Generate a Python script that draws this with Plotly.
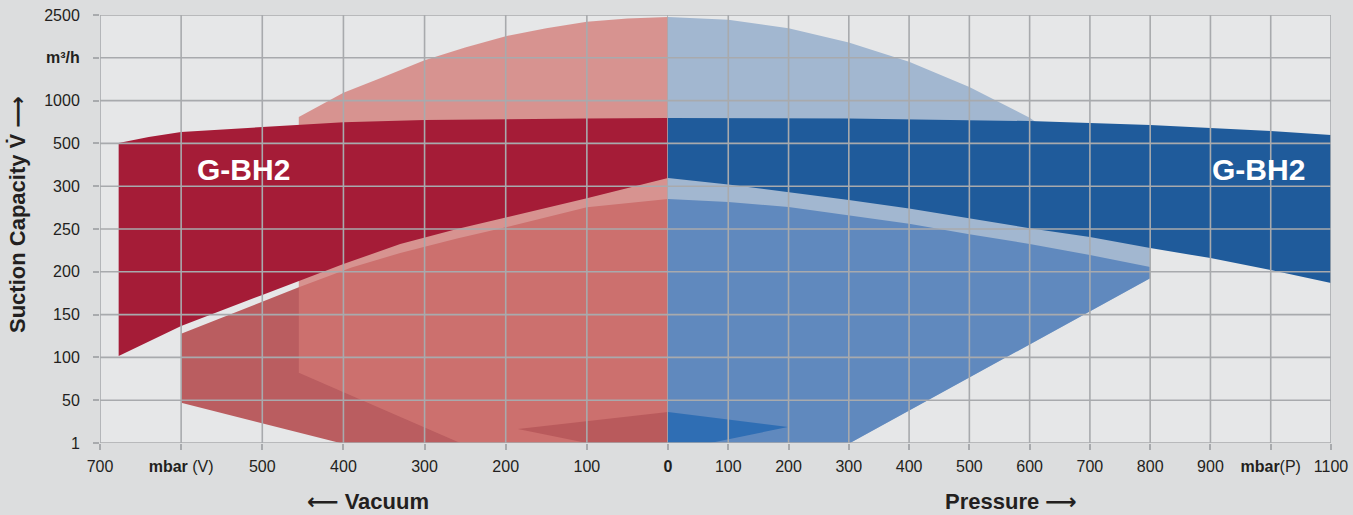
import numpy as np
import plotly.graph_objects as go

# ---------------- axis definitions ----------------
y_tick_values = [1, 50, 100, 150, 200, 250, 300, 500, 1000, 1750, 2500]
y_tick_text = ["1", "50", "100", "150", "200", "250", "300", "500", "1000", "<b>m³/h</b>", "2500"]

vac_ticks = [700, 600, 500, 400, 300, 200, 100, 0]
vac_tick_text = ["700", "<b>mbar</b> (V)", "500", "400", "300", "200", "100", "<b>0</b>"]
pres_ticks = [100, 200, 300, 400, 500, 600, 700, 800, 900, 1000, 1100]
pres_tick_text = ["100", "200", "300", "400", "500", "600", "700", "800", "900", "<b>mbar</b>(P)", "1100"]

# ---------------- vacuum side (mbar V, m³/h) ----------------
vac_dark_top_x = [677, 640, 600, 500, 400, 300, 200, 100, 0]
vac_dark_top_y = [505, 575, 634, 692, 748, 773, 785, 791, 797]
vac_dark_bot_x = [677, 600, 500, 400, 330, 260, 200, 100, 0]
vac_dark_bot_y = [101.5, 136.6, 173, 209, 232.5, 250, 263, 286, 338]

vac_dome_top_x = [455, 400, 350, 300, 250, 200, 150, 100, 50, 0]
vac_dome_top_y = [808, 1139, 1420, 1705, 1930, 2128, 2270, 2380, 2440, 2465]
vac_dome_left_bottom = 82
vac_dome_axis_x = 256

vac_mid_top_x = [600, 455, 390, 330, 260, 200, 100, 0]
vac_mid_top_y = [127.5, 182, 205, 222, 239, 252, 275.5, 285]
vac_mid_left_bottom = 47
vac_mid_axis_x = 404

vac_small_x = [0, 185, 100, 0]
vac_small_y = [36.5, 17, 1, 1]

# ---------------- pressure side (mbar P, m³/h) ----------------
pres_dark_top_x = [0, 300, 600, 700, 800, 900, 1000, 1100]
pres_dark_top_y = [797, 791, 761, 738, 715, 680, 645, 598]
pres_dark_bot_x = [0, 100, 200, 300, 400, 500, 600, 700, 800, 900, 1000, 1100]
pres_dark_bot_y = [338, 308, 293, 284, 274, 262.8, 251, 240.6, 227.8, 216, 202, 187]

pres_dome_top_x = [0, 100, 200, 300, 400, 500, 600, 620, 800]
pres_dome_top_y = [2465, 2415, 2268, 2020, 1680, 1238, 800, 700, 500]

pres_mid_top_x = [0, 100, 200, 300, 400, 500, 600, 700, 800]
pres_mid_top_y = [285, 281.5, 275.7, 266, 256, 244, 232.5, 219.6, 205.6]
pres_mid_right_bottom = 192.5
pres_mid_axis_x = 302

pres_small_x = [0, 199, 70, 0]
pres_small_y = [36.5, 19.3, 1, 1]

# ---------------- helpers ----------------
idx = list(range(len(y_tick_values)))


def to_idx(vals):
    return list(np.interp(np.asarray(vals, dtype=float), y_tick_values, idx))


def poly(xs, ys, color, axis):
    return go.Scatter(
        x=list(xs) + [xs[0]], y=to_idx(list(ys) + [ys[0]]),
        mode="lines", fill="toself", fillcolor=color,
        line=dict(width=0, color=color), hoverinfo="skip",
        showlegend=False, xaxis=axis, yaxis="y",
    )


traces = []
# vacuum: medium (opaque), dome (transparent), dark band, small triangle
traces.append(poly(
    vac_mid_top_x + [0, vac_mid_axis_x, vac_mid_top_x[0]],
    vac_mid_top_y + [1, 1, vac_mid_left_bottom],
    "#ba5d60", "x"))
traces.append(poly(
    vac_dome_top_x + [0, vac_dome_axis_x, vac_dome_top_x[0]],
    vac_dome_top_y + [1, 1, vac_dome_left_bottom],
    "rgba(210,119,115,0.75)", "x"))
traces.append(poly(
    vac_dark_top_x + vac_dark_bot_x[::-1],
    vac_dark_top_y + vac_dark_bot_y[::-1],
    "#a51c37", "x"))
traces.append(poly(vac_small_x, vac_small_y, "#b95a5c", "x"))

# pressure: dome, medium, dark band, small triangle
traces.append(poly(
    pres_dome_top_x + [800, pres_mid_axis_x, 0],
    pres_dome_top_y + [pres_mid_right_bottom, 1, 1],
    "#a2b7d0", "x2"))
traces.append(poly(
    pres_mid_top_x + [800, pres_mid_axis_x, 0],
    pres_mid_top_y + [pres_mid_right_bottom, 1, 1],
    "#6089be", "x2"))
traces.append(poly(
    pres_dark_top_x + pres_dark_bot_x[::-1],
    pres_dark_top_y + pres_dark_bot_y[::-1],
    "#1f5b9b", "x2"))
traces.append(poly(pres_small_x, pres_small_y, "#2f6eb4", "x2"))

fig = go.Figure(traces)

GRID = "#a8aaad"
TXT = "#231f20"
FONT = "Liberation Sans, Arial, DejaVu Sans, sans-serif"

shapes = []
for i in idx:
    shapes.append(dict(type="line", xref="paper", yref="y", x0=0, x1=1, y0=i, y1=i,
                       line=dict(color=GRID, width=1.6), layer="above"))
for v in vac_ticks:
    shapes.append(dict(type="line", xref="x", yref="paper", x0=v, x1=v, y0=0, y1=1,
                       line=dict(color=GRID, width=1.6), layer="above"))
for p in pres_ticks:
    shapes.append(dict(type="line", xref="x2", yref="paper", x0=p, x1=p, y0=0, y1=1,
                       line=dict(color=GRID, width=1.6), layer="above"))

split = 568 / 1231

axis_common = dict(showgrid=False, zeroline=False, showline=False, automargin=False,
                   ticks="outside", ticklen=6, tickwidth=1.5, tickcolor=GRID,
                   tickfont=dict(family=FONT, size=16, color=TXT))

fig.update_layout(
    template="none",
    width=1353, height=515,
    margin=dict(l=100, r=22, t=15, b=72, autoexpand=False),
    paper_bgcolor="#dcddde", plot_bgcolor="#e6e7e8",
    shapes=shapes,
    xaxis=dict(domain=[0, split], range=[700, 0], tickmode="array",
               tickvals=vac_ticks, ticktext=vac_tick_text, anchor="y",
               ticklabelstandoff=3, **axis_common),
    xaxis2=dict(domain=[split, 1], range=[0, 1100], tickmode="array",
                tickvals=pres_ticks, ticktext=pres_tick_text, anchor="y",
                ticklabelstandoff=3, **axis_common),
    yaxis=dict(range=[0, 10], tickmode="array", tickvals=idx, ticktext=y_tick_text,
               anchor="x", ticklabelstandoff=10, **axis_common),
    annotations=[
        dict(text="<b>G-BH2</b>", xref="x", yref="y", x=523, y=to_idx([376])[0],
             showarrow=False, font=dict(family=FONT, size=30, color="white")),
        dict(text="<b>G-BH2</b>", xref="x2", yref="y", x=979, y=to_idx([376])[0],
             showarrow=False, font=dict(family=FONT, size=30, color="white")),
        dict(text="<b>Suction Capacity V̇ ⟶</b>", xref="paper", yref="paper",
             x=(17 - 100) / 1231, y=(443 - 215) / 428, textangle=-90, showarrow=False,
             xanchor="center", yanchor="middle",
             font=dict(family=FONT, size=22, color=TXT)),
        dict(text="<b>⟵ Vacuum</b>", xref="paper", yref="paper",
             x=(368 - 100) / 1231, y=(443 - 501) / 428, showarrow=False,
             xanchor="center", yanchor="middle",
             font=dict(family=FONT, size=22, color=TXT)),
        dict(text="<b>Pressure ⟶</b>", xref="paper", yref="paper",
             x=(1011 - 100) / 1231, y=(443 - 501) / 428, showarrow=False,
             xanchor="center", yanchor="middle",
             font=dict(family=FONT, size=22, color=TXT)),
    ],
)

fig.write_html("out.html", config={"displayModeBar": False},
               post_script="document.body.style.margin='0px';")
